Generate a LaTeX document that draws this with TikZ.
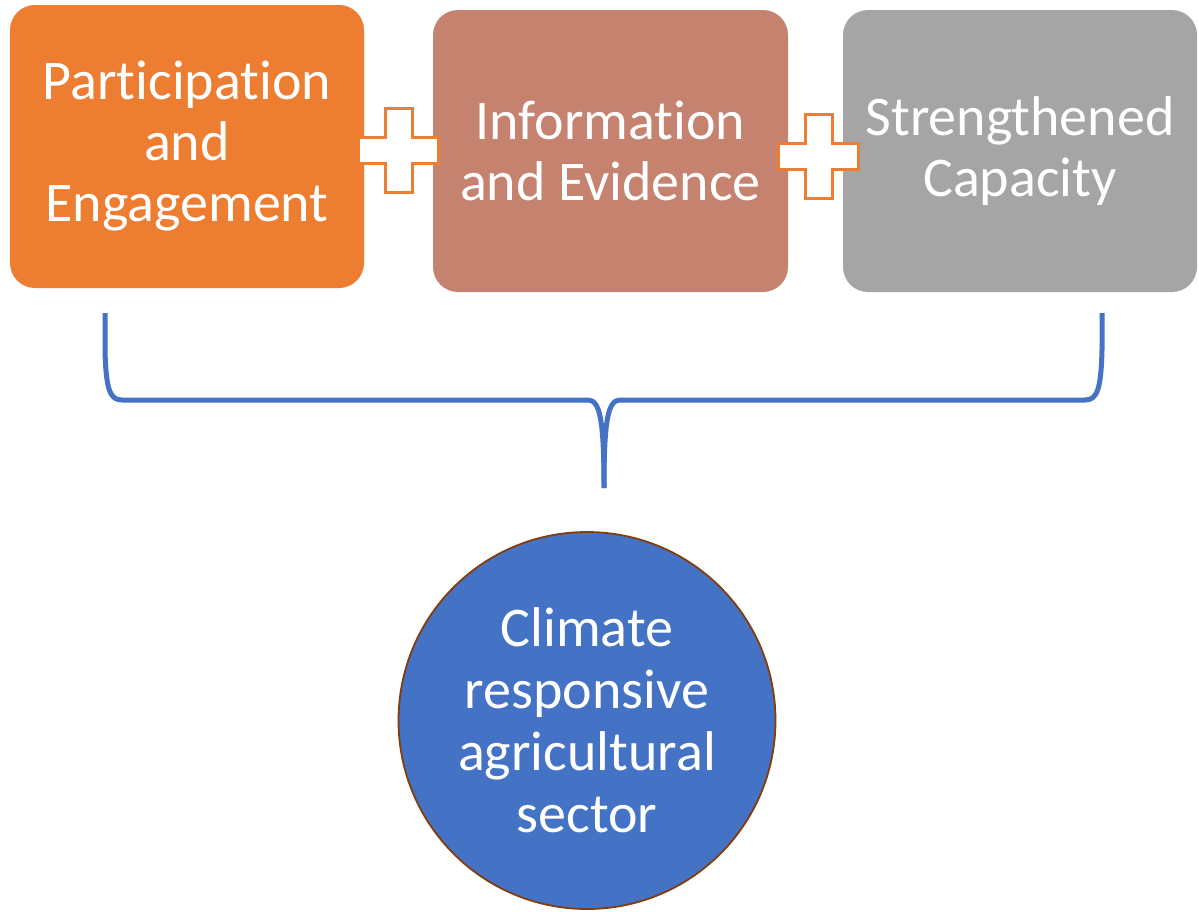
\documentclass[tikz,border=0pt]{standalone}
\usepackage{fontspec}
\setmainfont[Ligatures={NoCommon}]{Carlito}
\definecolor{orng}{HTML}{ED7D31}
\definecolor{rose}{HTML}{C4826F}
\definecolor{gry}{HTML}{A5A5A5}
\definecolor{blu}{HTML}{4472C4}
\definecolor{brn}{HTML}{843C0C}
\tikzset{
  box/.style={rounded corners=25pt, minimum width=354pt, minimum height=282pt, inner sep=0pt,
    text=white, align=center, font=\fontsize{56}{61}\selectfont},
  plussign/.pic={\draw[orng, line width=3pt, fill=white, line join=miter]
     (-13.5,-13) -- (-13.5,-42) -- (13.5,-42) -- (13.5,-13) -- (40,-13) -- (40,13) -- (13.5,13)
     -- (13.5,42) -- (-13.5,42) -- (-13.5,13) -- (-40,13) -- (-40,-13) -- cycle;},
  bracestyle/.style={blu, line width=5pt},
  circ/.style={circle, minimum size=377pt, fill=blu, draw=brn, line width=1.8pt, inner sep=0pt,
    text=white, align=center, font=\fontsize{56}{62}\selectfont}
}
\begin{document}
\begin{tikzpicture}[x=1pt,y=-1pt]
\useasboundingbox (0,0) rectangle (1199,911);
\node[box, fill=orng, minimum height=283pt] (b1) at (187,146.5) {Participation\\and\\Engagement};
\node[box, fill=rose, minimum width=355pt] (b2) at (610.5,151) {Information\\and Evidence};
\node[box, fill=gry] (b3) at (1020,151) {Strengthened\\Capacity};
\pic at (398.5,150) {plussign};
\pic at (818.5,156.5) {plussign};
\coordinate (bl) at (105,313);
\coordinate (br) at (1102,313);
\coordinate (tip) at (604,488);
\draw[bracestyle] (bl) -- (105,350) .. controls (106,390) and (110,400) .. (122,400)
  -- (588,400) .. controls (600,400) and (604,420) .. (tip);
\draw[bracestyle] (br) -- (1102,350) .. controls (1101,390) and (1097,400) .. (1085,400)
  -- (620,400) .. controls (608,400) and (604,420) .. (tip);
\node[circ] (c) at (587,720.5) {Climate\\responsive\\agricultural\\sector};
\end{tikzpicture}
\end{document}
